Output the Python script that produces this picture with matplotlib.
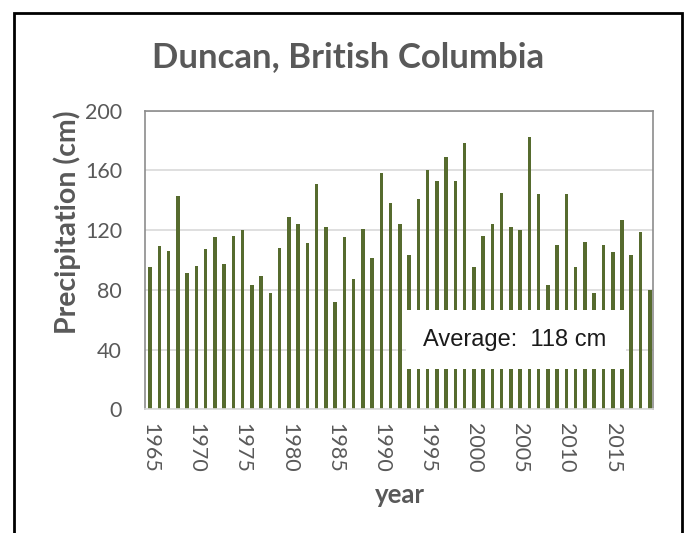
import matplotlib
matplotlib.use("Agg")
import matplotlib.pyplot as plt
from matplotlib.patches import Rectangle

# Annual precipitation at Duncan, BC (cm)
years = list(range(1965, 2020))
precip_cm = [
    95, 109, 106, 143, 91, 96, 107, 115, 97, 116,
    120, 83, 89, 78, 108, 129, 124, 111, 151, 122,
    72, 115, 87, 121, 101, 158, 138, 124, 103, 141,
    160, 153, 169, 153, 178, 95, 116, 124, 145, 122,
    120, 182, 144, 83, 110, 144, 95, 112, 78, 110,
    105, 127, 103, 119, 80,
]
average_cm = 118
y_ticks = [0, 40, 80, 120, 160, 200]
x_ticks = list(range(1965, 2020, 5))

title = "Duncan, British Columbia"
x_label = "year"
y_label = "Precipitation (cm)"

W, H = 686, 533
fig = plt.figure(figsize=(W / 100, H / 100), dpi=100)
fig.patch.set_facecolor("white")

# outer chart border (open at the bottom edge)
fig.add_artist(Rectangle((13.5 / W, -0.05), (682 - 13.5) / W, 1.05 - 12.5 / H,
                         transform=fig.transFigure, fill=False,
                         edgecolor="black", linewidth=2.0))

left, right, top, bottom = 145, 653, 110.5, 409.3
ax = fig.add_axes([left / W, 1 - bottom / H, (right - left) / W, (bottom - top) / H])

bar_color = "#566B2E"
ax.bar(years, precip_cm, width=0.38, color=bar_color, zorder=2)

ax.set_xlim(1964.45, 2019.35)
ax.set_ylim(0, 200)
ax.set_yticks(y_ticks)
ax.set_xticks(x_ticks)

text_grey = "#595959"
tick_font = {"family": "Lato", "size": 15.5, "color": text_grey}
ax.set_yticklabels([str(v) for v in y_ticks], **tick_font)
ax.set_xticklabels([str(v) for v in x_ticks], rotation=-90, **tick_font)
ax.tick_params(axis="both", length=0)
ax.tick_params(axis="y", pad=16.5)
ax.tick_params(axis="x", pad=10)

ax.grid(axis="y", color="#D9D9D9", linewidth=1.2, zorder=0)
ax.set_axisbelow(True)

for side in ("left", "top", "right"):
    ax.spines[side].set_color("#8C8C8C")
    ax.spines[side].set_linewidth(1.2)
ax.spines["bottom"].set_color("#D9D9D9")
ax.spines["bottom"].set_linewidth(1.2)

# average annotation box
ax.add_patch(Rectangle((1992.7, 27), 2016.47 - 1992.7, 66.6 - 27,
                       facecolor="white", edgecolor="none", zorder=3))
ax.text(2004.4, 46.5, f"Average:  {average_cm} cm", ha="center", va="center",
        family="Liberation Sans", fontsize=17, color="#1A1A1A", zorder=4)

fig.text(348 / W, 1 - 57 / H, title, ha="center", va="center",
         family="Lato", fontweight="bold", fontsize=25, color=text_grey)
fig.text(67 / W, 1 - 222 / H, y_label, ha="center", va="center", rotation=90,
         family="Lato", fontweight="bold", fontsize=20.5, color=text_grey)
fig.text(400 / W, 1 - 495 / H, x_label, ha="center", va="center",
         family="Lato", fontweight="bold", fontsize=18.5, color=text_grey)

fig.savefig("out.png", dpi=100)
